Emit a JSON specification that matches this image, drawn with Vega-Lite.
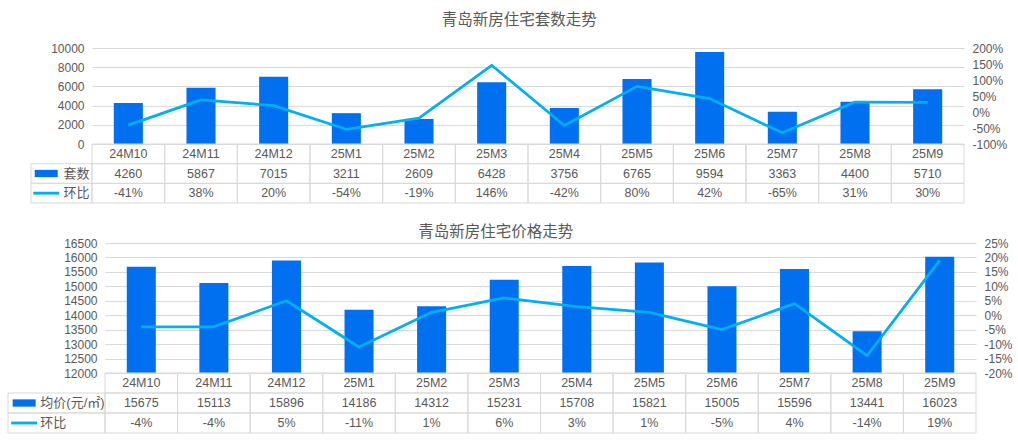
{
  "$schema": "https://vega.github.io/schema/vega-lite/v6.json",
  "padding": {"left": 7, "top": 12, "right": 0, "bottom": 0},
  "config": {
    "font": "Liberation Sans, Noto Sans CJK SC",
    "view": {"stroke": null},
    "axis": {"ticks": false, "domain": false, "labelFontSize": 12, "labelColor": "#595959", "gridColor": "#d9d9d9", "labelPadding": 8},
    "text": {"fontSize": 12.5, "color": "#595959"},
    "locale": {"number": {"decimal": ".", "thousands": ",", "grouping": [3], "currency": ["", ""], "minus": "-"}}
  },
  "datasets": {
    "top": [
      {"m": "24M10", "n": 4260, "p": -0.41},
      {"m": "24M11", "n": 5867, "p": 0.38},
      {"m": "24M12", "n": 7015, "p": 0.20},
      {"m": "25M1", "n": 3211, "p": -0.54},
      {"m": "25M2", "n": 2609, "p": -0.19},
      {"m": "25M3", "n": 6428, "p": 1.46},
      {"m": "25M4", "n": 3756, "p": -0.42},
      {"m": "25M5", "n": 6765, "p": 0.80},
      {"m": "25M6", "n": 9594, "p": 0.42},
      {"m": "25M7", "n": 3363, "p": -0.65},
      {"m": "25M8", "n": 4400, "p": 0.31},
      {"m": "25M9", "n": 5710, "p": 0.30}
    ],
    "bot": [
      {"m": "24M10", "n": 15675, "p": -0.04},
      {"m": "24M11", "n": 15113, "p": -0.04},
      {"m": "24M12", "n": 15896, "p": 0.05},
      {"m": "25M1", "n": 14186, "p": -0.11},
      {"m": "25M2", "n": 14312, "p": 0.01},
      {"m": "25M3", "n": 15231, "p": 0.06},
      {"m": "25M4", "n": 15708, "p": 0.03},
      {"m": "25M5", "n": 15821, "p": 0.01},
      {"m": "25M6", "n": 15005, "p": -0.05},
      {"m": "25M7", "n": 15596, "p": 0.04},
      {"m": "25M8", "n": 13441, "p": -0.14},
      {"m": "25M9", "n": 16023, "p": 0.19}
    ],
    "legTop": [
      {"k": "a", "label": "套数"},
      {"k": "b", "label": "环比"}
    ],
    "legBot": [
      {"k": "a", "label": "均价(元/㎡)"},
      {"k": "b", "label": "环比"}
    ]
  },
  "spacing": 20,
  "vconcat": [
    {
      "title": {"text": "青岛新房住宅套数走势", "fontSize": 15.5, "fontWeight": "normal", "color": "#595959", "offset": 14, "anchor": "middle", "dx": 12},
      "columns": 3,
      "bounds": "flush",
      "spacing": 0,
      "concat": [
        {"width": 23, "height": 96, "data": {"values": [{}]}, "mark": {"type": "text"}, "encoding": {"text": {"value": ""}}},
        {"width": 61, "height": 96, "data": {"values": [{}]}, "mark": {"type": "text"}, "encoding": {"text": {"value": ""}}},
        {
          "width": 872, "height": 96,
          "data": {"name": "top"},
          "encoding": {"x": {"field": "m", "type": "nominal", "sort": null, "axis": null, "scale": {"paddingInner": 0.6, "paddingOuter": 0.3}}},
          "layer": [
            {"mark": {"type": "bar", "color": "#0070F0"},
             "encoding": {"y": {"field": "n", "type": "quantitative", "scale": {"domain": [0, 10000], "nice": false},
               "axis": {"values": [0, 2000, 4000, 6000, 8000, 10000], "format": "d", "grid": true, "title": null}}}},
            {"mark": {"type": "line", "color": "#00B0F0", "strokeWidth": 2.75, "strokeJoin": "round"},
             "encoding": {"y": {"field": "p", "type": "quantitative", "scale": {"domain": [-1, 2], "nice": false},
               "axis": {"orient": "right", "values": [-1, -0.5, 0, 0.5, 1, 1.5, 2], "format": ".0%", "grid": false, "title": null}}}}
          ],
          "resolve": {"scale": {"y": "independent"}}
        },
        {"width": 23, "height": 59, "data": {"values": [{}]}, "mark": {"type": "text"}, "encoding": {"text": {"value": ""}}},
        {
          "width": 61, "height": 59,
          "data": {"name": "legTop"},
          "encoding": {"y": {"field": "k", "type": "nominal", "axis": null, "scale": {"type": "band", "domain": ["h", "a", "b"], "paddingInner": 0, "paddingOuter": 0}}},
          "layer": [
            {"mark": {"type": "rect", "filled": false, "color": "#d9d9d9", "strokeWidth": 1}},
            {"mark": {"type": "point", "filled": true, "size": 676, "opacity": 1},
             "encoding": {
               "x": {"datum": "sym", "type": "nominal", "axis": null, "scale": {"type": "band", "domain": ["sym", "lbl"], "paddingInner": 0, "paddingOuter": 0}},
               "shape": {"field": "k", "type": "nominal", "legend": null, "scale": {"domain": ["a", "b"], "range": ["M-0.885,-0.28H0.885V0.28H-0.885Z", "M-1,-0.11H1V0.11H-1Z"]}},
               "color": {"field": "k", "type": "nominal", "legend": null, "scale": {"domain": ["a", "b"], "range": ["#0070F0", "#00B0F0"]}}
             }},
            {"mark": {"type": "text", "align": "left", "dx": 2, "fontSize": 13},
             "encoding": {"x": {"datum": "lbl", "type": "nominal", "bandPosition": 0}, "text": {"field": "label"}}}
          ]
        },
        {
          "width": 872, "height": 59,
          "data": {"name": "top"},
          "encoding": {"x": {"field": "m", "type": "nominal", "sort": null, "axis": null, "scale": {"paddingInner": 0, "paddingOuter": 0}}},
          "layer": [
            {"mark": {"type": "rect", "filled": false, "color": "#d9d9d9", "strokeWidth": 1},
             "encoding": {"y": {"datum": "h", "type": "nominal", "axis": null, "scale": {"type": "band", "domain": ["h", "a", "b"], "paddingInner": 0, "paddingOuter": 0}}}},
            {"mark": {"type": "rect", "filled": false, "color": "#d9d9d9", "strokeWidth": 1},
             "encoding": {"y": {"datum": "a", "type": "nominal"}}},
            {"mark": {"type": "rect", "filled": false, "color": "#d9d9d9", "strokeWidth": 1},
             "encoding": {"y": {"datum": "b", "type": "nominal"}}},
            {"mark": {"type": "text"}, "encoding": {"y": {"datum": "h", "type": "nominal"}, "text": {"field": "m"}}},
            {"mark": {"type": "text"}, "encoding": {"y": {"datum": "a", "type": "nominal"}, "text": {"field": "n", "format": "d"}}},
            {"mark": {"type": "text"}, "encoding": {"y": {"datum": "b", "type": "nominal"}, "text": {"field": "p", "format": ".0%"}}}
          ]
        }
      ]
    },
    {
      "title": {"text": "青岛新房住宅价格走势", "fontSize": 15.5, "fontWeight": "normal", "color": "#595959", "offset": -3, "anchor": "middle", "dx": -14},
      "columns": 2,
      "bounds": "flush",
      "spacing": 0,
      "concat": [
        {"width": 97, "height": 130, "data": {"values": [{}]}, "mark": {"type": "text"}, "encoding": {"text": {"value": ""}}},
        {
          "width": 871, "height": 130,
          "data": {"name": "bot"},
          "encoding": {"x": {"field": "m", "type": "nominal", "sort": null, "axis": null, "scale": {"paddingInner": 0.6, "paddingOuter": 0.3}}},
          "layer": [
            {"mark": {"type": "bar", "color": "#0070F0"},
             "encoding": {
               "y": {"field": "n", "type": "quantitative", "scale": {"domain": [12000, 16500], "nice": false, "zero": false},
                 "axis": {"values": [12000, 12500, 13000, 13500, 14000, 14500, 15000, 15500, 16000, 16500], "format": "d", "grid": true, "title": null}},
               "y2": {"datum": 12000}
             }},
            {"mark": {"type": "line", "color": "#00B0F0", "strokeWidth": 2.75, "strokeJoin": "round"},
             "encoding": {"y": {"field": "p", "type": "quantitative", "scale": {"domain": [-0.2, 0.25], "nice": false},
               "axis": {"orient": "right", "values": [-0.2, -0.15, -0.1, -0.05, 0, 0.05, 0.1, 0.15, 0.2, 0.25], "format": ".0%", "grid": false, "title": null}}}}
          ],
          "resolve": {"scale": {"y": "independent"}}
        },
        {
          "width": 97, "height": 60,
          "data": {"name": "legBot"},
          "encoding": {"y": {"field": "k", "type": "nominal", "axis": null, "scale": {"type": "band", "domain": ["h", "a", "b"], "paddingInner": 0, "paddingOuter": 0}}},
          "layer": [
            {"mark": {"type": "rect", "filled": false, "color": "#d9d9d9", "strokeWidth": 1}},
            {"mark": {"type": "point", "filled": true, "size": 676, "opacity": 1},
             "encoding": {
               "x": {"datum": "sym", "type": "nominal", "axis": null, "scale": {"type": "band", "domain": ["sym", "lbl", "pad"], "paddingInner": 0, "paddingOuter": 0}},
               "shape": {"field": "k", "type": "nominal", "legend": null, "scale": {"domain": ["a", "b"], "range": ["M-0.85,-0.26H0.85V0.26H-0.85Z", "M-1,-0.11H1V0.11H-1Z"]}},
               "color": {"field": "k", "type": "nominal", "legend": null, "scale": {"domain": ["a", "b"], "range": ["#0070F0", "#00B0F0"]}}
             }},
            {"mark": {"type": "text", "align": "left", "fontSize": 13},
             "encoding": {"x": {"datum": "lbl", "type": "nominal", "bandPosition": 0}, "text": {"field": "label"}}}
          ]
        },
        {
          "width": 871, "height": 60,
          "data": {"name": "bot"},
          "encoding": {"x": {"field": "m", "type": "nominal", "sort": null, "axis": null, "scale": {"paddingInner": 0, "paddingOuter": 0}}},
          "layer": [
            {"mark": {"type": "rect", "filled": false, "color": "#d9d9d9", "strokeWidth": 1},
             "encoding": {"y": {"datum": "h", "type": "nominal", "axis": null, "scale": {"type": "band", "domain": ["h", "a", "b"], "paddingInner": 0, "paddingOuter": 0}}}},
            {"mark": {"type": "rect", "filled": false, "color": "#d9d9d9", "strokeWidth": 1},
             "encoding": {"y": {"datum": "a", "type": "nominal"}}},
            {"mark": {"type": "rect", "filled": false, "color": "#d9d9d9", "strokeWidth": 1},
             "encoding": {"y": {"datum": "b", "type": "nominal"}}},
            {"mark": {"type": "text"}, "encoding": {"y": {"datum": "h", "type": "nominal"}, "text": {"field": "m"}}},
            {"mark": {"type": "text"}, "encoding": {"y": {"datum": "a", "type": "nominal"}, "text": {"field": "n", "format": "d"}}},
            {"mark": {"type": "text"}, "encoding": {"y": {"datum": "b", "type": "nominal"}, "text": {"field": "p", "format": ".0%"}}}
          ]
        }
      ]
    }
  ]
}
